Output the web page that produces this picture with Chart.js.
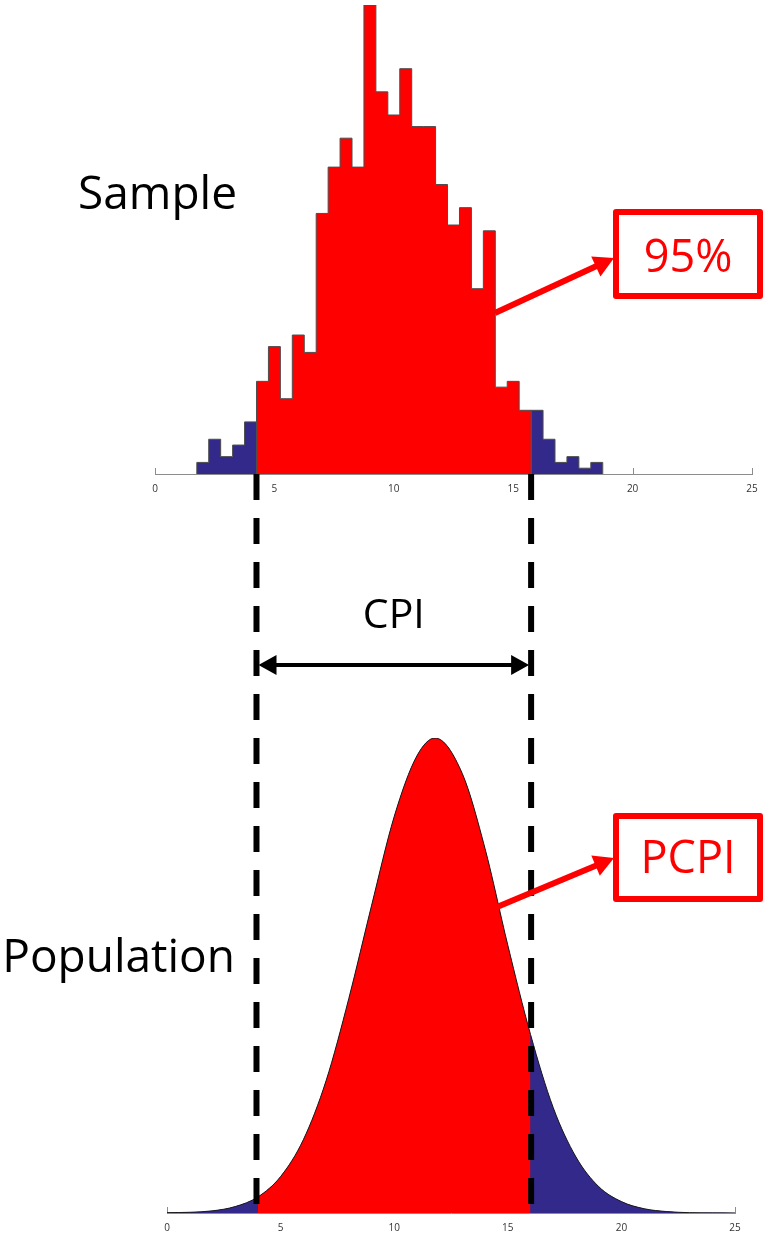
<!DOCTYPE html>
<html>
<head>
<meta charset="utf-8">
<script src="https://cdn.jsdelivr.net/npm/chart.js@4.4.1/dist/chart.umd.min.js"></script>
<style>
  html, body { margin: 0; padding: 0; background: #ffffff; }
  #wrap { position: relative; width: 767px; height: 1236px; }
  #wrap canvas { position: absolute; left: 0; top: 0; }
</style>
</head>
<body>
<div id="wrap">
  <canvas id="population" width="767" height="1236"></canvas>
  <canvas id="sample" width="767" height="1236"></canvas>
</div>
<script>
// ---- Sample histogram: bin edges (35) and counts per bin (34) ----
const binEdges = [1.75, 2.25, 2.75, 3.25, 3.75, 4.25, 4.75, 5.25, 5.75, 6.25,
                  6.75, 7.25, 7.75, 8.25, 8.75, 9.25, 9.75, 10.25, 10.75, 11.25,
                  11.75, 12.25, 12.75, 13.25, 13.75, 14.25, 14.75, 15.25, 15.75, 16.25,
                  16.75, 17.25, 17.75, 18.25, 18.75];
const sampleCounts = [2, 6, 3, 5, 9, 16, 22, 13, 24, 21,
                      45, 53, 58, 53, 81, 66, 62, 70, 60, 60,
                      50, 43, 46, 32, 42, 15, 16, 11, 11, 6,
                      2, 3, 1, 2];
// bins [firstInner, lastInner] make up the central 95% of the sample
const sampleInner = [5, 27];

// ---- Population density curve ----
const popX = [0, 1, 2, 3, 4, 5, 6, 7, 8, 9, 10, 11, 11.8, 13, 14, 15, 16, 17, 18, 19, 20, 21, 22, 23, 24, 25];
const popY = [0.0001, 0.0002, 0.0006, 0.0018, 0.0045, 0.0102, 0.0205, 0.037, 0.060, 0.086, 0.111, 0.128, 0.133,
              0.123, 0.102, 0.075, 0.050, 0.0295, 0.0157, 0.0074, 0.0032, 0.0012, 0.0004, 0.0001, 0.00004, 0.00001];
// population interval limits
const popInterval = [4, 16];

const axisTicks = [0, 5, 10, 15, 20, 25];

const RED = '#ff0000';
const NAVY = '#33298a';
const FONT = '"Open Sans", "DejaVu Sans", sans-serif';

// stepped outline for bins i0..i1 (inclusive)
function histPoints(i0, i1) {
  const pts = [{ x: binEdges[i0], y: 0 }];
  for (let i = i0; i <= i1; i++) pts.push({ x: binEdges[i], y: sampleCounts[i] });
  pts.push({ x: binEdges[i1 + 1], y: 0 });
  return pts;
}

const commonScaleX = {
  type: 'linear', min: 0, max: 25,
  grid: { display: false, drawTicks: false },
  border: { display: true, color: '#8c8c8c', width: 1 },
  ticks: {
    color: '#333333', font: { family: FONT, size: 10 }, padding: 9,
    autoSkip: false, maxRotation: 0,
    callback: v => (axisTicks.includes(v) ? String(v) : '')
  },
  afterBuildTicks: s => { s.ticks = axisTicks.map(v => ({ value: v })); },
  afterFit: s => { s.height = 20; }
};

// small inward tick marks, drawn beneath the data
const innerTicks = {
  id: 'innerTicks',
  beforeDatasetsDraw(chart) {
    const { ctx, scales: { x }, chartArea } = chart;
    ctx.save();
    ctx.strokeStyle = '#8c8c8c';
    ctx.lineWidth = 1;
    axisTicks.forEach(v => {
      const px = Math.round(x.getPixelForValue(v)) + 0.5;
      ctx.beginPath();
      ctx.moveTo(px, chartArea.bottom);
      ctx.lineTo(px, chartArea.bottom - 6);
      ctx.stroke();
    });
    ctx.restore();
  }
};

function baseOptions(padding, yMax) {
  return {
    responsive: false,
    animation: false,
    events: [],
    layout: { padding },
    plugins: { legend: { display: false }, tooltip: { enabled: false } },
    elements: { point: { radius: 0 } },
    scales: {
      x: Object.assign({}, commonScaleX),
      y: { display: false, min: 0, max: yMax }
    }
  };
}

// ---------- Population chart (drawn underneath) ----------
const inInterval = c => c.p0.parsed.x >= popInterval[0] && c.p1.parsed.x <= popInterval[1];
const popPoints = popX.map((x, i) => ({ x, y: popY[i] }));
const popChart = new Chart(document.getElementById('population'), {
  type: 'line',
  data: {
    datasets: [
      {
        // interval in red, tails in navy, with the curve outline
        data: popPoints,
        order: 1,
        borderColor: '#1a1a1a',
        borderWidth: 1,
        backgroundColor: NAVY,
        fill: 'origin',
        cubicInterpolationMode: 'monotone',
        pointRadius: 0,
        segment: { backgroundColor: c => (inInterval(c) ? RED : NAVY) }
      },
      {
        // full area underneath so the colour change leaves no gap
        data: popPoints,
        order: 2,
        borderWidth: 0,
        borderColor: 'rgba(0,0,0,0)',
        backgroundColor: NAVY,
        fill: 'origin',
        cubicInterpolationMode: 'monotone',
        pointRadius: 0
      }
    ]
  },
  options: baseOptions({ left: 167, right: 32, top: 738, bottom: 3 }, Math.max(...popY)),
  plugins: [innerTicks]
});

// ---------- Annotation layer helpers ----------
function arrowHead(ctx, x1, y1, x2, y2, len, half) {
  const a = Math.atan2(y2 - y1, x2 - x1);
  ctx.beginPath();
  ctx.moveTo(x2, y2);
  ctx.lineTo(x2 - len * Math.cos(a) + half * Math.sin(a), y2 - len * Math.sin(a) - half * Math.cos(a));
  ctx.lineTo(x2 - len * Math.cos(a) - half * Math.sin(a), y2 - len * Math.sin(a) + half * Math.cos(a));
  ctx.closePath();
  ctx.fill();
}
function arrow(ctx, x1, y1, x2, y2, width, len, half, color) {
  const a = Math.atan2(y2 - y1, x2 - x1);
  ctx.save();
  ctx.strokeStyle = color; ctx.fillStyle = color; ctx.lineWidth = width;
  ctx.beginPath();
  ctx.moveTo(x1, y1);
  ctx.lineTo(x2 - (len - 2) * Math.cos(a), y2 - (len - 2) * Math.sin(a));
  ctx.stroke();
  arrowHead(ctx, x1, y1, x2, y2, len, half);
  ctx.restore();
}
function labelBox(ctx, x, y, w, h, text, baseline) {
  ctx.save();
  ctx.strokeStyle = RED; ctx.lineWidth = 6; ctx.lineJoin = 'round';
  ctx.fillStyle = '#ffffff';
  ctx.beginPath();
  ctx.rect(x, y, w, h);
  ctx.fill();
  ctx.stroke();
  ctx.fillStyle = RED;
  ctx.font = '45px ' + FONT;
  ctx.textAlign = 'center';
  ctx.textBaseline = 'alphabetic';
  ctx.fillText(text, x + w / 2, baseline);
  ctx.restore();
}

const annotations = {
  id: 'annotations',
  afterDraw(chart) {
    const { ctx, scales: { x }, chartArea } = chart;
    const xl = x.getPixelForValue(binEdges[sampleInner[0]]);
    const xr = x.getPixelForValue(binEdges[sampleInner[1] + 1]);
    const yTop = chartArea.bottom;
    const yEnd = popChart.chartArea.bottom + 5;

    ctx.save();
    // dashed interval limits running down to the population axis
    ctx.strokeStyle = '#000000';
    ctx.lineWidth = 6;
    ctx.setLineDash([26, 18]);
    [xl, xr].forEach(px => {
      ctx.beginPath();
      ctx.moveTo(px, yTop);
      ctx.lineTo(px, yEnd);
      ctx.stroke();
    });
    ctx.setLineDash([]);

    // CPI double arrow
    const yArrow = 665;
    ctx.fillStyle = '#000000';
    ctx.lineWidth = 4;
    ctx.beginPath();
    ctx.moveTo(xl + 14, yArrow);
    ctx.lineTo(xr - 14, yArrow);
    ctx.stroke();
    arrowHead(ctx, xr, yArrow, xl + 2, yArrow, 18, 10);
    arrowHead(ctx, xl, yArrow, xr - 2, yArrow, 18, 10);

    // text labels
    ctx.font = '41px ' + FONT;
    ctx.textAlign = 'center';
    ctx.textBaseline = 'alphabetic';
    ctx.fillText('CPI', (xl + xr) / 2, 628);
    ctx.font = '46px ' + FONT;
    ctx.textAlign = 'right';
    ctx.fillText('Sample', 237, 209);
    ctx.fillText('Population', 235, 972);
    ctx.restore();

    // red call-outs
    arrow(ctx, 495, 313, 614, 258, 6, 20, 11, RED);
    labelBox(ctx, 616, 212, 144, 84, '95%', 272);
    arrow(ctx, 497, 907, 614, 858, 6, 20, 11, RED);
    labelBox(ctx, 616, 816, 144, 83, 'PCPI', 873);
  }
};

// ---------- Sample histogram (drawn on top) ----------
const histStyle = { borderColor: '#4d4d4d', borderWidth: 1, stepped: true, pointRadius: 0, fill: 'origin' };
new Chart(document.getElementById('sample'), {
  type: 'line',
  data: {
    datasets: [
      Object.assign({ data: histPoints(0, sampleInner[0] - 1), backgroundColor: NAVY }, histStyle),
      Object.assign({ data: histPoints(sampleInner[0], sampleInner[1]), backgroundColor: RED }, histStyle),
      Object.assign({ data: histPoints(sampleInner[1] + 1, sampleCounts.length - 1), backgroundColor: NAVY }, histStyle)
    ]
  },
  options: baseOptions({ left: 155, right: 15, top: 5, bottom: 742 }, Math.max(...sampleCounts)),
  plugins: [innerTicks, annotations]
});
</script>
</body>
</html>
